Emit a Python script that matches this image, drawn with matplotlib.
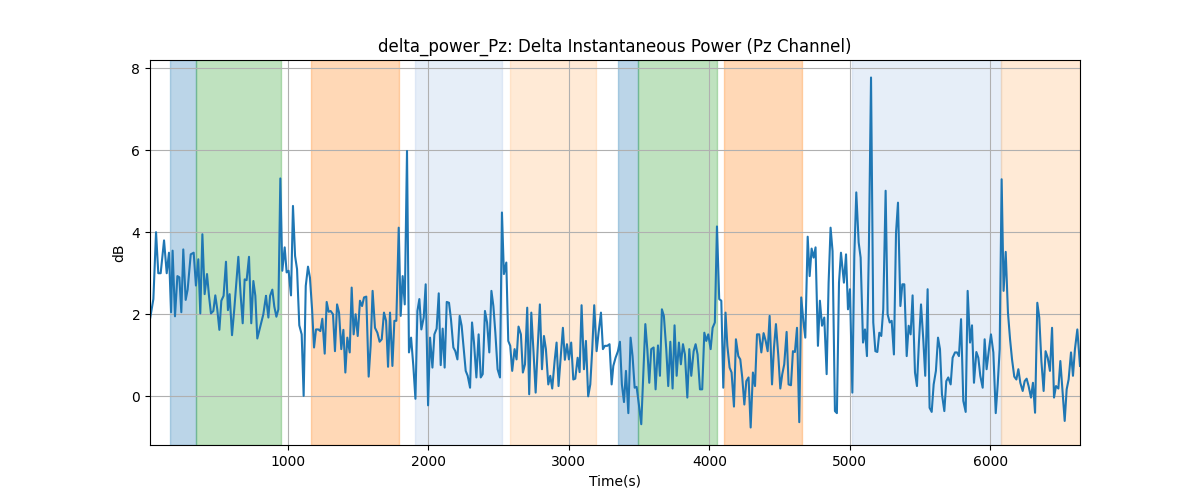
import numpy as np
import matplotlib
matplotlib.use("Agg")
import matplotlib.pyplot as plt

# time (s) and delta power (dB)
time_s = [
    17, 41, 60, 76, 93, 117, 136, 152, 167, 178, 195, 212, 226, 240, 254, 271, 285, 307, 328, 344,
    361, 375, 390, 406, 423, 437, 451, 468, 482, 496, 511, 525, 541, 558, 572, 584, 601, 617, 632, 646,
    662, 677, 691, 705, 722, 738, 753, 767, 781, 800, 824, 843,
    848, 860, 872, 888, 902, 917, 931, 945, 959, 976, 990, 1004, 1021, 1035, 1050, 1064, 1080, 1097,
    1111, 1126, 1142, 1156, 1171, 1185, 1199, 1216, 1230, 1244, 1261, 1275, 1289, 1303, 1320, 1334,
    1349, 1363, 1379, 1394, 1408, 1422, 1439, 1453, 1467, 1481, 1496, 1512, 1527, 1541, 1557, 1574,
    1588, 1602, 1619, 1636, 1652,
    1667, 1683, 1698, 1712, 1726, 1743, 1757, 1771, 1788, 1802, 1816, 1831, 1847, 1861, 1876, 1892,
    1907, 1921, 1935, 1949, 1966, 1980, 1997, 2011, 2028, 2042, 2058, 2073, 2087, 2101, 2115, 2130,
    2146, 2160, 2177, 2191, 2206, 2222, 2236, 2251, 2265, 2279, 2296, 2310, 2324, 2341, 2357, 2372,
    2386, 2402, 2417, 2433, 2448, 2462, 2476,
    2492, 2509, 2523, 2537, 2554, 2568, 2582, 2596, 2613, 2627, 2641, 2658, 2672, 2687, 2703, 2717,
    2732, 2748, 2763, 2777, 2793, 2808, 2822, 2836, 2853, 2867, 2881, 2898, 2912, 2926, 2943, 2957,
    2971, 2986, 3000, 3016, 3031, 3045, 3062, 3076, 3090, 3107, 3121, 3137, 3152, 3166, 3180, 3197,
    3211, 3228, 3242, 3256, 3273, 3289,
    3304, 3316, 3332, 3349, 3363, 3377, 3392, 3406, 3423, 3439, 3453, 3468, 3482, 3498, 3515, 3529,
    3544, 3558, 3572, 3586, 3603, 3617, 3634, 3648, 3662, 3676, 3693, 3707, 3722, 3738, 3752, 3767,
    3783, 3797, 3812, 3826, 3843, 3857, 3871, 3888, 3902, 3916, 3933, 3949, 3964, 3978, 3992, 4009,
    4023, 4039, 4054, 4070, 4085, 4099, 4115,
    4128, 4144, 4158, 4175, 4189, 4206, 4220, 4234, 4249, 4263, 4279, 4294, 4310, 4325, 4339, 4355,
    4370, 4386, 4401, 4415, 4429, 4446, 4460, 4474, 4491, 4505, 4519, 4533, 4550, 4564, 4581, 4595,
    4609, 4624, 4640, 4654, 4669, 4683, 4700, 4714, 4728, 4742, 4756, 4773, 4787, 4802, 4818, 4835,
    4849, 4863, 4877, 4894, 4908, 4923, 4937,
    4958, 4973, 4987, 5001, 5018, 5032, 5046, 5063, 5077, 5094, 5108, 5122, 5136, 5151, 5167, 5182,
    5196, 5210, 5224, 5238, 5255, 5269, 5284, 5298, 5314, 5329, 5343, 5360, 5374, 5388, 5405, 5419,
    5433, 5447, 5464, 5478, 5492, 5507, 5523, 5537, 5554, 5568, 5583, 5597, 5613, 5628, 5642, 5656,
    5673, 5687, 5701, 5718, 5732, 5749,
    5763, 5777, 5792, 5808, 5825, 5839, 5856, 5870, 5884, 5901, 5915, 5929, 5946, 5960, 5974, 5991,
    6005, 6022, 6039, 6053, 6067, 6081, 6095, 6110, 6126, 6141, 6155, 6171, 6186, 6200, 6214, 6231,
    6245, 6259, 6273, 6290, 6304, 6319, 6335, 6349, 6364, 6380, 6394, 6409, 6425, 6440, 6454, 6468,
    6485, 6499, 6515, 6530, 6544, 6558, 6575, 6589, 6603, 6620, 6639,
]
power_db = [
    1.88, 2.37, 4.0, 3.0, 3.0, 3.8, 3.0, 3.5, 2.05, 3.55, 1.95, 2.93, 2.9, 2.05, 3.58, 2.35, 2.6, 3.46, 3.5, 2.7,
    3.34, 2.02, 3.95, 2.49, 2.98, 2.45, 2.02, 2.08, 2.46, 2.12, 1.62, 2.33, 2.45, 3.28, 2.1, 2.49, 1.49, 2.12, 2.77, 3.4,
    2.49, 1.78, 2.85, 2.83, 3.4, 1.78, 2.81, 2.45, 1.41, 1.67, 2.0, 2.45,
    2.28, 1.92, 2.45, 2.6, 2.19, 1.94, 2.12, 5.31, 3.06, 3.63, 3.02, 3.06, 2.46, 4.64, 3.42, 3.1, 1.73, 1.51,
    0.01, 2.69, 3.16, 2.89, 2.12, 1.19, 1.63, 1.63, 1.59, 1.89, 1.04, 2.3, 2.06, 2.08, 2.0, 1.1,
    2.24, 2.04, 1.15, 1.62, 0.58, 1.43, 1.07, 2.65, 1.51, 2.0, 1.47, 2.33, 2.2, 2.41, 2.43, 0.48,
    1.23, 2.57, 1.67, 1.55, 1.33,
    1.39, 2.04, 1.84, 0.72, 2.04, 0.74, 1.84, 1.84, 4.11, 1.96, 2.93, 2.24, 5.98, 1.07, 1.43, 0.74,
    -0.06, 2.08, 2.37, 1.63, 1.92, 2.73, -0.22, 1.43, 0.7, 1.51, 1.65, 2.51, 0.76, 1.65, 0.7, 2.3,
    2.28, 1.88, 1.19, 1.1, 0.9, 1.96, 1.72, 1.15, 0.62, 0.5, 0.21, 1.8, 1.31, 0.46, 1.51, 0.46,
    0.54, 2.08, 1.8, 1.07, 2.57, 2.2, 1.55,
    0.66, 0.46, 4.48, 2.98, 3.26, 1.35, 1.23, 0.62, 1.15, 0.9, 1.7, 1.51, 0.58, 0.78, 2.16, 0.05,
    2.04, 1.07, 0.09, 1.15, 2.24, 0.66, 1.47, 1.15, 0.29, 0.5, 0.19, 0.86, 1.31, 0.25, 1.02, 1.67,
    0.89, 1.27, 0.9, 1.31, 0.41, 0.43, 0.94, 0.59, 2.22, 0.66, 1.35, 0.0, 0.29, 1.15, 2.22, 1.1,
    1.55, 2.04, 1.15, 1.23, 1.23, 1.27,
    0.29, 0.74, 0.94, 1.1, 1.33, 0.29, -0.14, 0.62, -0.41, 1.43, 0.98, 0.21, 0.23, -0.2, -0.68, 0.5,
    1.76, 1.15, 0.33, 1.15, 1.19, 0.17, 1.24, 0.5, 2.12, 1.96, 1.15, 0.25, 1.33, 0.19, 1.73, 0.5,
    1.31, 0.78, 1.27, 1.02, -0.03, 1.15, 0.5, 1.1, 1.27, 1.02, 0.17, 0.17, 1.55, 1.35, 1.51, 1.15,
    1.67, 1.8, 4.14, 2.37, 2.33, 0.21, 2.04,
    1.23, 0.7, 0.58, -0.25, 1.39, 0.98, 0.9, 0.46, -0.2, 0.37, 0.46, -0.76, 0.58, 0.25, 1.51, 1.51,
    1.07, 1.54, 1.35, 1.1, 1.96, 0.29, 1.19, 1.76, 0.98, 0.19, 0.54, 0.78, 1.57, 0.29, 0.27, 1.1,
    1.08, 1.67, -0.63, 2.41, 1.84, 1.43, 3.89, 2.93, 3.6, 3.38, 3.63, 1.23, 2.33, 1.72, 1.92, 0.54,
    2.77, 4.11, 3.54, -0.36, -0.41, 2.77, 3.5,
    2.77, 3.46, 2.12, 2.61, 0.09, 3.42, 4.97, 3.75, 3.38, 1.31, 1.63, 0.98, 3.67, 7.77, 1.8, 1.1,
    1.08, 1.55, 1.47, 2.12, 5.01, 2.0, 1.8, 1.84, 1.02, 3.99, 4.72, 2.2, 2.73, 2.73, 0.98, 1.72,
    1.51, 2.46, 0.58, 0.25, 1.31, 2.24, 1.39, 0.5, 2.61, -0.28, -0.38, 0.29, 0.62, 1.43, 1.15, 0.05,
    -0.36, 0.37, 0.46, 0.29, 0.94, 1.07,
    1.07, 0.98, 1.88, -0.11, -0.38, 2.57, 1.31, 1.73, 0.33, 1.08, 0.94, 0.5, 0.21, 1.39, 0.66, 1.15,
    1.51, 1.07, -0.41, 0.29, 1.15, 5.29, 2.57, 3.52, 2.04, 1.39, 0.9, 0.48, 0.41, 0.66, 0.33, 0.13,
    0.37, 0.43, 0.25, -0.03, 0.33, -0.4, 2.28, 1.92, 0.86, 0.13, 1.1, 0.94, 0.62, 1.67, -0.03, 0.25,
    0.19, 0.86, 0.09, -0.6, 0.17, 0.41, 1.07, 0.5, 1.15, 1.63, 0.74,
]

# shaded task blocks: start, end, colour
span_start = [160, 345, 1163, 1904, 2580, 3349, 3494, 4106, 5013, 6076]
span_end = [345, 948, 1788, 2520, 3190, 3494, 4051, 4657, 6076, 6639]
span_color = ['tab:blue', 'tab:green', 'tab:orange', '#aec7e8', '#ffbb78',
              'tab:blue', 'tab:green', 'tab:orange', '#aec7e8', '#ffbb78']

fig, ax = plt.subplots(figsize=(12, 5), dpi=100)

for s, e, c in zip(span_start, span_end, span_color):
    ax.axvspan(s, e, color=c, alpha=0.3)

ax.plot(time_s, power_db, color='tab:blue', linewidth=1.5)

ax.set_xlim(time_s[0], time_s[-1])
ax.set_title('delta_power_Pz: Delta Instantaneous Power (Pz Channel)')
ax.set_xlabel('Time(s)')
ax.set_ylabel('dB')
ax.grid(True)

fig.savefig('out.png')
